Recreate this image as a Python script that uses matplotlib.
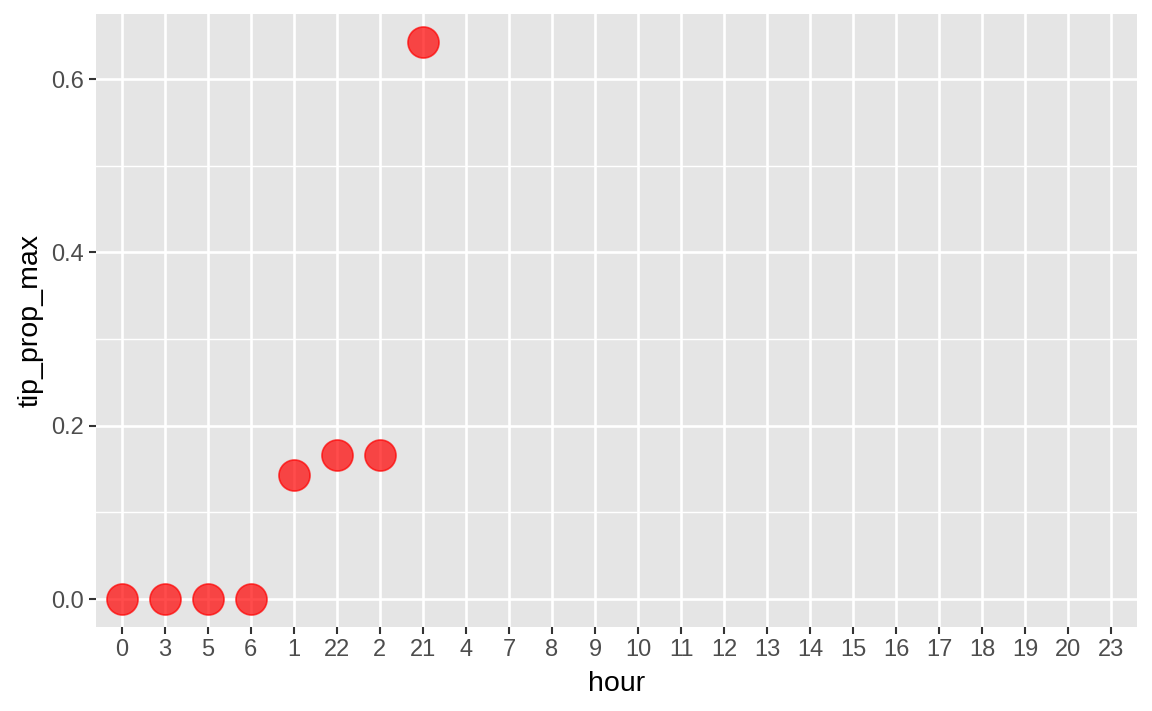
import numpy as np
import matplotlib
matplotlib.use('Agg')
import matplotlib.pyplot as plt
from matplotlib.ticker import MultipleLocator

plt.rcParams['font.family'] = ['Liberation Sans', 'DejaVu Sans']

# dados
hour_labels = ['0', '3', '5', '6', '1', '22', '2', '21', '4', '7', '8', '9', '10',
               '11', '12', '13', '14', '15', '16', '17', '18', '19', '20', '23']
point_hours = ['0', '3', '5', '6', '1', '22', '2', '21']
tip_prop_max = [0.0, 0.0, 0.0, 0.0, 0.1429, 0.1667, 0.1667, 0.6429]

fig = plt.figure(figsize=(11.52, 7.11), dpi=100)
ax = fig.add_axes([96/1152, 1 - 627/711, (1137-96)/1152, (627-14)/711])
ax.set_facecolor('#E5E5E5')

xpos = [hour_labels.index(h) for h in point_hours]
ax.scatter(xpos, tip_prop_max, s=500, color='#FF0000', alpha=0.7,
           edgecolors='#FF0000', linewidths=1.2, zorder=3)

ax.set_xticks(range(len(hour_labels)))
ax.set_xticklabels(hour_labels)
ax.set_xlim(-0.6, len(hour_labels) - 1 + 0.6)

ymax = max(tip_prop_max)
ax.set_ylim(-0.05 * ymax, ymax * 1.05)
ax.yaxis.set_major_locator(MultipleLocator(0.2))
ax.yaxis.set_minor_locator(MultipleLocator(0.1))
ax.yaxis.set_major_formatter(plt.FuncFormatter(lambda v, p: f'{v:.1f}'))

ax.grid(which='major', color='white', linewidth=1.9)
ax.grid(which='minor', axis='y', color='white', linewidth=1.0)
ax.set_axisbelow(True)
for s in ax.spines.values():
    s.set_visible(False)

ax.tick_params(which='major', length=5, width=1.5, color='#333333',
               labelsize=17, labelcolor='#4D4D4D', pad=4)
ax.tick_params(which='minor', length=0)

ax.set_xlabel('hour', fontsize=20.5, color='black', labelpad=7)
ax.set_ylabel('tip_prop_max', fontsize=20.5, color='black', labelpad=5)

fig.savefig('out.png', dpi=100)
